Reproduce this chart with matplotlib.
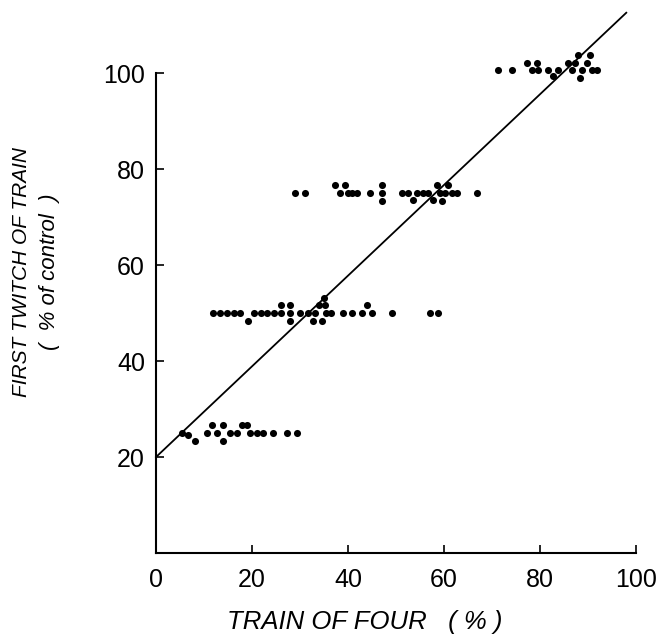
import numpy as np
import matplotlib as m
m.use('Agg')
import matplotlib.pyplot as plt

# points, one row per first-twitch level
x25 = [5.4, 6.7, 8.1, 10.6, 11.7, 12.7, 14.0, 14.0, 15.4, 16.9, 17.9, 19.0, 19.6, 21.0, 22.3, 24.4, 27.3, 29.4]
y25 = [25, 24.5, 23.4, 25, 26.6, 25, 26.6, 23.4, 25, 25, 26.6, 26.6, 25, 25, 25, 25, 25, 25]

x50 = [11.9, 13.3, 14.8, 16.2, 17.6, 19.2, 20.4, 21.8, 23.2, 24.6, 26.0, 26.0, 28.0, 28.0, 28.0,
       30.0, 31.6, 32.8, 33.2, 34.0, 34.6, 35.0, 35.2, 35.4, 36.4,
       39.0, 40.8, 42.9, 44.0, 45.0, 49.2, 57.1, 58.8]
y50 = [50, 50, 50, 50, 50, 48.3, 50, 50, 50, 50, 51.6, 50, 51.6, 50, 48.3,
       50, 50, 48.3, 50, 51.6, 48.3, 53.2, 51.6, 50, 50,
       50, 50, 50, 51.6, 50, 50, 50, 50]

x75 = [29.0, 31.0, 37.3, 38.3, 39.4, 40.0, 40.8, 41.9, 44.6, 47.1, 47.1, 47.1, 51.3, 52.5, 53.5,
       54.4, 55.6, 56.7, 57.7, 58.5, 59.2, 59.5, 60.2, 60.8, 61.7, 62.7, 66.9]
y75 = [75, 75, 76.7, 75, 76.7, 75, 75, 75, 75, 76.7, 75, 73.3, 75, 75, 73.5,
       75, 75, 75, 73.5, 76.7, 75, 73.3, 75, 76.7, 75, 75, 75]

x100 = [71.3, 74.2, 77.3, 78.3, 79.4, 79.6, 81.7, 82.7, 83.8, 85.8, 86.7, 87.3, 88.0, 88.3, 88.8,
        89.8, 90.4, 90.8, 91.9]
y100 = [100.6, 100.6, 102.2, 100.6, 102.2, 100.6, 100.6, 99.4, 100.6, 102.2, 100.6, 102.2, 103.8, 99.0, 100.6,
        102.2, 103.8, 100.6, 100.6]

# regression line
fit_x = [0, 98]
intercept = 20
slope = 0.945


def main():
  plt.rcParams['font.family'] = ['Liberation Sans', 'DejaVu Sans']

  fig = plt.figure(figsize=(6.61, 6.38), dpi=100)
  ax = fig.add_axes([0.236, 0.1332, 0.726, 0.752])

  for xs, ys in [(x25, y25), (x50, y50), (x75, y75), (x100, y100)]:
    ax.scatter(xs, ys, s=26, color='black', linewidths=0, clip_on=False, zorder=3)

  fx = np.array(fit_x)
  ax.plot(fx, intercept + slope * fx, color='black', lw=1.3, clip_on=False)

  ax.set_xlim(0, 100)
  ax.set_ylim(0, 100)
  ax.set_xticks([0, 20, 40, 60, 80, 100])
  ax.set_yticks([20, 40, 60, 80, 100])
  ax.spines['top'].set_visible(False)
  ax.spines['right'].set_visible(False)
  ax.spines['left'].set_linewidth(1.5)
  ax.spines['bottom'].set_linewidth(1.5)
  ax.tick_params(direction='in', length=6, width=1.2, labelsize=18)
  ax.tick_params(axis='x', pad=11)
  ax.tick_params(axis='y', pad=8)

  fig.text(365 / 661, 1 - 622 / 638, 'TRAIN OF FOUR   ( % )', fontsize=18.5, style='italic',
           ha='center', va='center')
  fig.text(22 / 661, 1 - 272 / 638, 'FIRST TWITCH OF TRAIN', fontsize=15, style='italic',
           rotation=90, ha='center', va='center')
  fig.text(50 / 661, 1 - 272 / 638, '(  % of control  )', fontsize=16, style='italic',
           rotation=90, ha='center', va='center')

  plt.savefig('out.png', dpi=100)


if __name__ == '__main__':
  main()
